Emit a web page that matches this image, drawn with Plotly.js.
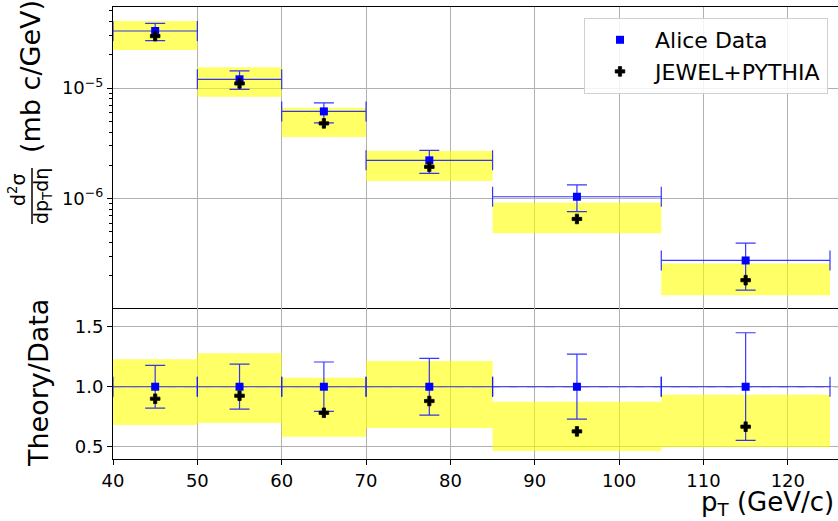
<!DOCTYPE html>
<html>
<head>
<meta charset="utf-8">
<script src="https://cdn.plot.ly/plotly-3.0.1.min.js"></script>
<style>html,body{margin:0;padding:0;background:#fff}#chart{width:838px;height:521px}</style>
</head>
<body>
<div id="chart"></div>
<script>
// ---- data ----
const binLo = [40, 50, 60, 70, 85, 105];
const binHi = [50, 60, 70, 85, 105, 125];
const ptCenter = [45, 55, 65, 77.5, 95, 115];

const aliceData = [3.28e-5, 1.20e-5, 6.15e-6, 2.22e-6, 1.04e-6, 2.76e-7];
const aliceUpper = [3.85e-5, 1.43e-5, 7.36e-6, 2.73e-6, 1.33e-6, 3.96e-7];
const aliceLower = [2.68e-5, 9.73e-6, 4.85e-6, 1.69e-6, 7.63e-7, 1.49e-7];
const jewelPythia = [2.95e-5, 1.10e-5, 4.79e-6, 1.94e-6, 6.55e-7, 1.83e-7];
const bandHigh = [4.04e-5, 1.54e-5, 6.64e-6, 2.69e-6, 9.2e-7, 2.59e-7];
const bandLow = [2.21e-5, 8.34e-6, 3.61e-6, 1.44e-6, 4.86e-7, 1.34e-7];

const aliceRatio = [1, 1, 1, 1, 1, 1];
const ratioUpper = [1.178, 1.189, 1.206, 1.236, 1.272, 1.45];
const ratioLower = [0.822, 0.814, 0.795, 0.764, 0.731, 0.553];
const jewelRatio = [0.90, 0.925, 0.783, 0.881, 0.628, 0.667];
const ratioBandHigh = [1.228, 1.278, 1.075, 1.214, 0.875, 0.933];
const ratioBandLow = [0.681, 0.698, 0.583, 0.656, 0.464, 0.495];

const xTicks = [40, 50, 60, 70, 80, 90, 100, 110, 120];
const yLogTickVals = [1e-6, 1e-5];
const yLogTickText = ['10<sup>−6</sup>', '10<sup>−5</sup>'];
const yRatioTicks = [0.5, 1.0, 1.5];

// ---- helpers ----
function boxes(lo, hi, ylo, yhi) {
  const xs = [], ys = [];
  for (let i = 0; i < lo.length; i++) {
    xs.push(lo[i], hi[i], hi[i], lo[i], lo[i], null);
    ys.push(ylo[i], ylo[i], yhi[i], yhi[i], ylo[i], null);
  }
  return {x: xs, y: ys};
}
const diff = (a, b) => a.map((v, i) => v - b[i]);

const FONT = 'DejaVu Sans, sans-serif';
const errColor = 'rgba(20,20,255,0.85)';
const yellow = 'rgba(255,255,0,0.6)';

const topBox = boxes(binLo, binHi, bandLow, bandHigh);
const ratioBox = boxes(binLo, binHi, ratioBandLow, ratioBandHigh);

const jewelMarker = {symbol: 'cross', size: 8, color: 'black', line: {color: 'black', width: 0.8}};
const aliceMarker = {symbol: 'square', size: 8, color: 'blue'};

const traces = [
  {type: 'scatter', mode: 'lines', x: topBox.x, y: topBox.y, fill: 'toself',
   fillcolor: yellow, line: {width: 0}, showlegend: false, hoverinfo: 'skip',
   xaxis: 'x', yaxis: 'y'},
  {type: 'scatter', mode: 'markers', name: 'Alice Data', x: ptCenter, y: aliceData,
   marker: aliceMarker,
   error_y: {type: 'data', symmetric: false, array: diff(aliceUpper, aliceData),
             arrayminus: diff(aliceData, aliceLower), color: errColor, thickness: 1.2, width: 10},
   error_x: {type: 'data', symmetric: false, array: diff(binHi, ptCenter),
             arrayminus: diff(ptCenter, binLo), color: errColor, thickness: 1.2, width: 10},
   xaxis: 'x', yaxis: 'y'},
  {type: 'scatter', mode: 'markers', name: 'JEWEL+PYTHIA', x: ptCenter, y: jewelPythia,
   marker: jewelMarker, xaxis: 'x', yaxis: 'y'},

  {type: 'scatter', mode: 'lines', x: ratioBox.x, y: ratioBox.y, fill: 'toself',
   fillcolor: yellow, line: {width: 0}, showlegend: false, hoverinfo: 'skip',
   xaxis: 'x2', yaxis: 'y2'},
  {type: 'scatter', mode: 'markers', name: 'Alice Data', x: ptCenter, y: aliceRatio,
   marker: aliceMarker, showlegend: false,
   error_y: {type: 'data', symmetric: false, array: diff(ratioUpper, aliceRatio),
             arrayminus: diff(aliceRatio, ratioLower), color: errColor, thickness: 1.2, width: 10},
   error_x: {type: 'data', symmetric: false, array: diff(binHi, ptCenter),
             arrayminus: diff(ptCenter, binLo), color: errColor, thickness: 1.2, width: 10},
   xaxis: 'x2', yaxis: 'y2'},
  {type: 'scatter', mode: 'markers', name: 'JEWEL+PYTHIA', x: ptCenter, y: jewelRatio,
   marker: jewelMarker, showlegend: false, xaxis: 'x2', yaxis: 'y2'}
];

const W = 838, H = 521, L = 113, T = 7, B = 62;
const plotW = W - L, plotH = H - T - B;
const px = v => (v - L) / plotW;        // pixel x -> paper x
const py = v => (H - B - v) / plotH;    // pixel y -> paper y
const split = py(308);

const grid = {showgrid: true, gridcolor: '#b0b0b0', gridwidth: 1};
const layout = {
  width: W, height: H,
  margin: {l: L, r: 0, t: T, b: B},
  paper_bgcolor: 'white', plot_bgcolor: 'white',
  font: {family: FONT, size: 18, color: 'black'},
  showlegend: true,
  legend: {x: px(828), xanchor: 'right', y: py(18), yanchor: 'top',
           bgcolor: 'rgba(255,255,255,0.85)', bordercolor: '#d0d0d0', borderwidth: 1,
           font: {family: FONT, size: 22, color: 'black'}, itemwidth: 60},
  xaxis: Object.assign({domain: [0, 1], anchor: 'y', range: [40, 125.95], tickvals: xTicks,
          showticklabels: false, ticks: '', showline: true, linecolor: 'black', linewidth: 1,
          mirror: true, zeroline: false}, grid),
  yaxis: Object.assign({domain: [split, 1], anchor: 'x', type: 'log', range: [-6.989, -4.267],
          tickvals: yLogTickVals, ticktext: yLogTickText, ticks: 'outside', ticklen: 5,
          tickcolor: 'black', showline: true, linecolor: 'black', linewidth: 1,
          minor: {ticks: 'outside', ticklen: 3, tickcolor: 'black', dtick: 'D1', showgrid: false},
          tickfont: {size: 18}}, grid),
  xaxis2: Object.assign({domain: [0, 1], anchor: 'y2', range: [40, 125.95], tickvals: xTicks,
          ticks: 'outside', ticklen: 5, tickcolor: 'black', showline: true, linecolor: 'black',
          linewidth: 1, zeroline: false, tickfont: {size: 18}}, grid),
  yaxis2: Object.assign({domain: [0, split], anchor: 'x2', range: [0.398, 1.656],
          tickvals: yRatioTicks, tickformat: '.1f', ticks: 'outside', ticklen: 5,
          tickcolor: 'black', showline: true, linecolor: 'black', linewidth: 1,
          zeroline: false, tickfont: {size: 18}}, grid),
  shapes: [
    {type: 'line', xref: 'x2 domain', yref: 'y2', x0: 0, x1: 1, y0: 1, y1: 1,
     line: {color: 'rgba(80,80,80,0.8)', width: 1, dash: 'dash'}, layer: 'below'},
    {type: 'line', xref: 'paper', yref: 'paper', x0: px(32), x1: px(32), y0: py(168), y1: py(224),
     line: {color: 'black', width: 1.5}}
  ],
  annotations: [
    {text: 'p<sub>T</sub> (GeV/c)', xref: 'paper', yref: 'paper', x: 1, y: py(521),
     xanchor: 'right', yanchor: 'bottom', xshift: -3, borderpad: 0, showarrow: false,
     font: {family: FONT, size: 26}},
    {text: 'Theory/Data', xref: 'paper', yref: 'paper', x: px(38), y: py(383),
     xanchor: 'center', yanchor: 'middle', textangle: -90, showarrow: false,
     font: {family: FONT, size: 27}},
    {text: '(mb c/GeV)', xref: 'paper', yref: 'paper', x: px(30), y: py(77),
     xanchor: 'center', yanchor: 'middle', textangle: -90, showarrow: false,
     font: {family: FONT, size: 27}},
    {text: 'd<sup>2</sup>σ', xref: 'paper', yref: 'paper', x: px(17), y: py(190),
     xanchor: 'center', yanchor: 'middle', textangle: -90, showarrow: false,
     font: {family: FONT, size: 19}},
    {text: 'dp<sub>T</sub>dη', xref: 'paper', yref: 'paper', x: px(42), y: py(196),
     xanchor: 'center', yanchor: 'middle', textangle: -90, showarrow: false,
     font: {family: FONT, size: 19}}
  ]
};

Plotly.newPlot('chart', traces, layout, {displayModeBar: false, staticPlot: true});
</script>
</body>
</html>
